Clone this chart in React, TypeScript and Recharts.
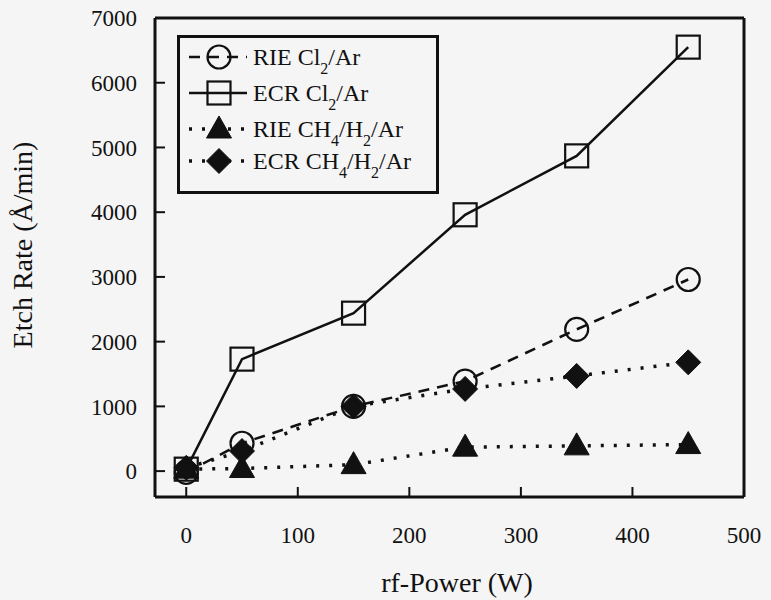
import React from 'react';
import { LineChart, Line, XAxis, YAxis, Legend } from 'recharts';

const powers = [0, 50, 150, 250, 350, 450];
const rieCl = [-20, 430, 1000, 1390, 2190, 2960];
const ecrCl = [30, 1730, 2440, 3960, 4870, 6550];
const rieCH = [30, 40, 100, 370, 390, 410];
const ecrCH = [50, 310, 1000, 1270, 1470, 1680];

const xTicks = [0, 100, 200, 300, 400, 500];
const yTicks = [0, 1000, 2000, 3000, 4000, 5000, 6000, 7000];
const rightTicks = [0, 1000, 2000, 3000, 4000, 5000, 6000];
const topTicks = [0, 100, 200, 300, 400];

const data = powers.map((p, i) => ({
  power: p,
  rieCl: rieCl[i],
  ecrCl: ecrCl[i],
  rieCH: rieCH[i],
  ecrCH: ecrCH[i],
}));

const FONT = '"Liberation Serif", "Times New Roman", serif';
const INK = '#111';

type MarkerKind = 'circle' | 'square' | 'triangle' | 'diamond';

function marker(kind: MarkerKind, cx: number, cy: number, key?: any) {
  if (kind === 'circle')
    return <circle key={key} cx={cx} cy={cy} r={11.5} fill="none" stroke={INK} strokeWidth={2.2} />;
  if (kind === 'square')
    return <rect key={key} x={cx - 11.5} y={cy - 11.5} width={23} height={23} fill="none" stroke={INK} strokeWidth={2.2} />;
  if (kind === 'triangle')
    return (
      <polygon key={key} points={`${cx},${cy - 13} ${cx - 12.5},${cy + 9} ${cx + 12.5},${cy + 9}`} fill={INK} stroke={INK} strokeWidth={1} />
    );
  return (
    <polygon key={key} points={`${cx},${cy - 12.5} ${cx + 12.5},${cy} ${cx},${cy + 12.5} ${cx - 12.5},${cy}`} fill={INK} stroke={INK} strokeWidth={1} />
  );
}

const dotFor = (kind: MarkerKind) => (props: any) => {
  const { cx, cy, index } = props;
  if (cx == null || cy == null) return <g key={index} />;
  return marker(kind, cx, cy, index);
};

const seriesInfo: { key: string; kind: MarkerKind; dash?: string; width: number; label: React.ReactNode }[] = [
  {
    key: 'rieCl', kind: 'circle', dash: '11 8', width: 2.5,
    label: (<>RIE Cl<tspan dy={9} fontSize={16}>2</tspan><tspan dy={-9}>/Ar</tspan></>),
  },
  {
    key: 'ecrCl', kind: 'square', width: 2.5,
    label: (<>ECR Cl<tspan dy={9} fontSize={16}>2</tspan><tspan dy={-9}>/Ar</tspan></>),
  },
  {
    key: 'rieCH', kind: 'triangle', dash: '3 10', width: 3.5,
    label: (<>RIE CH<tspan dy={9} fontSize={16}>4</tspan><tspan dy={-9}>/H</tspan><tspan dy={9} fontSize={16}>2</tspan><tspan dy={-9}>/Ar</tspan></>),
  },
  {
    key: 'ecrCH', kind: 'diamond', dash: '3 10', width: 3.5,
    label: (<>ECR CH<tspan dy={9} fontSize={16}>4</tspan><tspan dy={-9}>/H</tspan><tspan dy={9} fontSize={16}>2</tspan><tspan dy={-9}>/Ar</tspan></>),
  },
];

function LegendBox() {
  const rows = [22, 58, 94, 126];
  return (
    <svg width={262} height={160} style={{ display: 'block' }}>
      <rect x={1.5} y={1.5} width={259} height={156} fill="#f5f5f5" stroke={INK} strokeWidth={3} />
      {seriesInfo.map((s, i) => {
        const y = rows[i];
        return (
          <g key={s.key}>
            <line x1={12} y1={y} x2={70} y2={y} stroke={INK} strokeWidth={s.width} strokeDasharray={s.dash} />
            {marker(s.kind, 42, y)}
            <text x={76} y={y + 8} fontFamily={FONT} fontSize={24} fill={INK}>{s.label}</text>
          </g>
        );
      })}
    </svg>
  );
}

const YLabel = () => (
  <text x={32} y={245} transform="rotate(-90 32 245)" textAnchor="middle" fontFamily={FONT} fontSize={28} fill={INK}>
    Etch Rate (Å/min)
  </text>
);

const XLabel = () => (
  <text x={457} y={592} textAnchor="middle" fontFamily={FONT} fontSize={28} fill={INK}>
    rf-Power (W)
  </text>
);

export default function App() {
  const tickStyle = { fontSize: 23, fill: INK, fontFamily: FONT, style: { fontFamily: FONT } };
  const axisLine = { stroke: INK, strokeWidth: 3 };
  const tickLine = { stroke: INK, strokeWidth: 2 };
  return (
    <div style={{ position: 'absolute', left: 0, top: 0, width: 771, height: 600, background: '#f5f5f5', fontFamily: FONT }}>
      <LineChart width={771} height={600} data={data} margin={{ top: 0, right: 0, bottom: 0, left: 0 }} style={{ fontFamily: FONT }}>
        <XAxis
          xAxisId="b"
          dataKey="power"
          type="number"
          domain={[-28, 500]}
          ticks={xTicks}
          height={103}
          axisLine={axisLine}
          tickLine={tickLine}
          tickSize={-10}
          tickMargin={40}
          tick={tickStyle}
          interval={0}
          allowDataOverflow
          label={{ content: () => <XLabel /> }}
        />
        <XAxis
          xAxisId="t"
          orientation="top"
          type="number"
          domain={[-28, 500]}
          ticks={topTicks}
          height={18}
          axisLine={axisLine}
          tickLine={tickLine}
          tickSize={-10}
          tick={false}
          interval={0}
          allowDataOverflow
        />
        <YAxis
          yAxisId="l"
          type="number"
          domain={[-400, 7000]}
          ticks={yTicks}
          width={155}
          axisLine={axisLine}
          tickLine={tickLine}
          tickSize={-10}
          tickMargin={28}
          tick={tickStyle}
          interval={0}
          allowDataOverflow
          label={{ content: () => <YLabel /> }}
        />
        <YAxis
          yAxisId="r"
          orientation="right"
          type="number"
          domain={[-400, 7000]}
          ticks={rightTicks}
          width={27}
          axisLine={axisLine}
          tickLine={tickLine}
          tickSize={-10}
          tick={false}
          interval={0}
          allowDataOverflow
        />
        <Legend
          layout="vertical"
          align="center"
          verticalAlign="middle"
          wrapperStyle={{ position: 'absolute', left: 177, top: 35, width: 262, height: 160 }}
          content={() => <LegendBox />}
        />
        <Line xAxisId="b" yAxisId="l" dataKey="rieCH" stroke={INK} strokeWidth={3.5} strokeDasharray="3 10" dot={dotFor('triangle')} isAnimationActive={false} />
        <Line xAxisId="b" yAxisId="l" dataKey="ecrCH" stroke={INK} strokeWidth={3.5} strokeDasharray="3 10" dot={dotFor('diamond')} isAnimationActive={false} />
        <Line xAxisId="b" yAxisId="l" dataKey="rieCl" stroke={INK} strokeWidth={2.5} strokeDasharray="11 8" dot={dotFor('circle')} isAnimationActive={false} />
        <Line xAxisId="b" yAxisId="l" dataKey="ecrCl" stroke={INK} strokeWidth={2.5} dot={dotFor('square')} isAnimationActive={false} />
      </LineChart>
    </div>
  );
}
